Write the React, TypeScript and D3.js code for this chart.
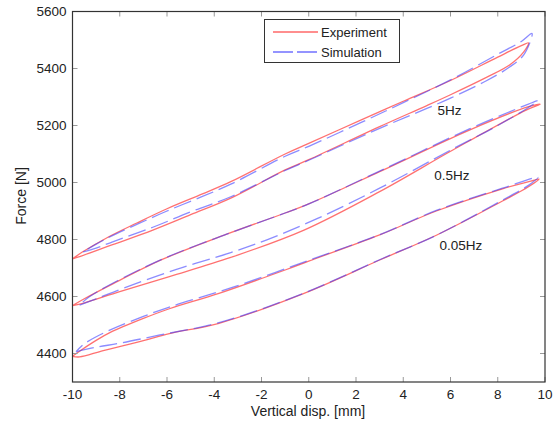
import React from "react";
import * as d3 from "d3";

type P = [number, number];

const xTicks = [-10, -8, -6, -4, -2, 0, 2, 4, 6, 8, 10];
const yTicks = [4400, 4600, 4800, 5000, 5200, 5400, 5600];

// Experiment, 5 Hz
const exp5Upper: P[] = [[-10, 4732], [-9.6, 4755], [-8.5, 4808], [-7.3, 4857], [-6, 4908], [-4.5, 4960], [-3.3, 5003], [-1, 5100], [0, 5137], [2.2, 5219], [4, 5285], [6, 5358], [8, 5440], [9, 5480], [9.3, 5490]];
const exp5Lower: P[] = [[-10, 4732], [-9.7, 4740], [-8.3, 4782], [-6.6, 4833], [-5, 4887], [-3.3, 4945], [-1, 5044], [0, 5080], [3, 5196], [5, 5270], [6, 5308], [7.5, 5368], [8.5, 5412], [9.1, 5458], [9.3, 5490]];
// Simulation, 5 Hz
const sim5Upper: P[] = [[-9.55, 4757], [-8.5, 4806], [-7.3, 4852], [-6, 4900], [-4.5, 4951], [-3.3, 4994], [-1, 5092], [0, 5127], [2.2, 5210], [4, 5280], [6, 5360], [8, 5450], [9, 5495], [9.45, 5523]];
const sim5Lower: P[] = [[-9.55, 4757], [-9, 4770], [-8.3, 4792], [-6.6, 4843], [-5, 4897], [-3.3, 4950], [-1, 5042], [0, 5078], [3, 5190], [5, 5260], [6, 5296], [7.5, 5356], [8.5, 5405], [9.1, 5448], [9.45, 5523]];

// Experiment, 0.5 Hz
const exp05Upper: P[] = [[-10, 4568], [-9.5, 4592], [-8.4, 4640], [-6.2, 4730], [-3.5, 4818], [-1, 4893], [0, 4925], [3, 5038], [6.8, 5184], [9.3, 5266], [9.8, 5275]];
const exp05Lower: P[] = [[-10, 4568], [-9.6, 4575], [-8, 4617], [-5.9, 4670], [-3.3, 4737], [-0.2, 4833], [3, 4968], [6.1, 5114], [9.2, 5254], [9.8, 5275]];
// Simulation, 0.5 Hz
const sim05Upper: P[] = [[-9.7, 4570], [-9.3, 4598], [-8.4, 4642], [-6.2, 4731], [-3.5, 4818], [-1, 4893], [0, 4925], [3, 5040], [6.8, 5188], [9.3, 5275], [9.7, 5287]];
const sim05Lower: P[] = [[-9.7, 4570], [-9, 4592], [-7.85, 4629], [-5.6, 4695], [-3.3, 4754], [-1.8, 4798], [0.4, 4875], [3, 4980], [6.1, 5118], [8, 5200], [9.2, 5258], [9.7, 5287]];

// Experiment, 0.05 Hz
const exp005Upper: P[] = [[-10, 4390], [-9.7, 4408], [-9, 4446], [-8.4, 4474], [-7, 4523], [-5.9, 4557], [-3.8, 4611], [-1, 4693], [0, 4724], [3, 4816], [5.4, 4900], [8.2, 4978], [9.4, 5005], [9.75, 5012]];
const exp005Lower: P[] = [[-10, 4390], [-9.7, 4388], [-8.7, 4410], [-7, 4445], [-5.9, 4470], [-3.8, 4506], [-0.2, 4611], [3, 4728], [5.4, 4815], [8.2, 4935], [9.3, 4985], [9.75, 5012]];
// Simulation, 0.05 Hz
const sim005Upper: P[] = [[-9.85, 4406], [-9.5, 4434], [-8.4, 4483], [-7, 4530], [-5.9, 4563], [-3.3, 4630], [0, 4727], [3, 4817], [5.4, 4902], [8.2, 4980], [9.7, 5018]];
const sim005Lower: P[] = [[-9.85, 4406], [-9, 4422], [-8, 4436], [-6.3, 4465], [-3.8, 4508], [-0.2, 4612], [3, 4729], [5.4, 4815], [8.2, 4938], [9.3, 4990], [9.7, 5018]];

const loopLabels = ["5Hz", "0.5Hz", "0.05Hz"];
const loopLabelPos: P[] = [[5.96, 5254], [6.06, 5026], [6.44, 4781]];
const legendLabels = ["Experiment", "Simulation"];

const W = 557;
const H = 427;
const x = d3.scaleLinear().domain([-10, 10]).range([72.5, 545]);
const y = d3.scaleLinear().domain([4300, 5600]).range([382, 11.5]);

const RED = "#ff4d4d";
const BLUE = "#4040ff";
const FONT = "'Liberation Sans', Arial, Helvetica, sans-serif";

const branch = d3
  .line<P>()
  .x((d) => x(d[0]))
  .y((d) => y(d[1]))
  .curve(d3.curveCatmullRom.alpha(0.5));

function loopPath(upper: P[], lower: P[]) {
  const pts = [...lower, ...upper.slice().reverse().slice(1)];
  return branch(pts) || "";
}

export default function App() {
  const [x0, x1] = x.range();
  const [yb, yt] = y.range();
  const tickLen = 5;
  const expLoops = [
    [exp5Upper, exp5Lower],
    [exp05Upper, exp05Lower],
    [exp005Upper, exp005Lower],
  ];
  const simLoops = [
    [sim5Upper, sim5Lower],
    [sim05Upper, sim05Lower],
    [sim005Upper, sim005Lower],
  ];
  return (
    <svg width={W} height={H} style={{ position: "absolute", left: 0, top: 0, background: "#fff" }} fontFamily={FONT}>
      <rect x={0} y={0} width={W} height={H} fill="#fff" />
      {expLoops.map(([u, l], i) => (
        <path key={"e" + i} d={loopPath(u, l)} fill="none" stroke={RED} strokeOpacity={0.8} strokeWidth={1.3} />
      ))}
      {simLoops.map(([u, l], i) => (
        <path key={"s" + i} d={loopPath(u, l)} fill="none" stroke={BLUE} strokeOpacity={0.6} strokeWidth={1.3} strokeDasharray="18,6" />
      ))}
      {xTicks.map((t) => (
        <g key={"xt" + t}>
          <line x1={x(t)} x2={x(t)} y1={yb} y2={yb - tickLen} stroke="#999" />
          <line x1={x(t)} x2={x(t)} y1={yt} y2={yt + tickLen} stroke="#999" />
          <text x={x(t)} y={399} textAnchor="middle" fontSize={13.5} fill="#222">
            {t}
          </text>
        </g>
      ))}
      {yTicks.map((t) => (
        <g key={"yt" + t}>
          <line x1={x0} x2={x0 + tickLen} y1={y(t)} y2={y(t)} stroke="#999" />
          <line x1={x1} x2={x1 - tickLen} y1={y(t)} y2={y(t)} stroke="#999" />
          <text x={66.5} y={y(t)} dy="0.35em" textAnchor="end" fontSize={13.5} fill="#222">
            {t}
          </text>
        </g>
      ))}
      <rect x={x0} y={yt} width={x1 - x0} height={yb - yt} fill="none" stroke="#333" strokeWidth={1.2} />
      {loopLabels.map((s, i) => (
        <text key={s} x={x(loopLabelPos[i][0])} y={y(loopLabelPos[i][1])} dy="0.35em" textAnchor="middle" fontSize={13.5} fill="#222">
          {s}
        </text>
      ))}
      <rect x={264.5} y={19.5} width={135} height={43} fill="#fff" stroke="#333" strokeWidth={1} />
      <line x1={273} x2={318} y1={32} y2={32} stroke={RED} strokeOpacity={0.85} strokeWidth={1.4} />
      <line x1={273} x2={318} y1={52} y2={52} stroke={BLUE} strokeOpacity={0.75} strokeWidth={1.4} strokeDasharray="20,4" />
      <text x={321} y={32} dy="0.35em" fontSize={13} fill="#222">
        {legendLabels[0]}
      </text>
      <text x={321} y={52} dy="0.35em" fontSize={13} fill="#222">
        {legendLabels[1]}
      </text>
      <text x={308} y={416} textAnchor="middle" fontSize={14} fill="#222">
        Vertical disp. [mm]
      </text>
      <text transform="translate(26,196) rotate(-90)" textAnchor="middle" fontSize={14} fill="#222">
        Force [N]
      </text>
    </svg>
  );
}
